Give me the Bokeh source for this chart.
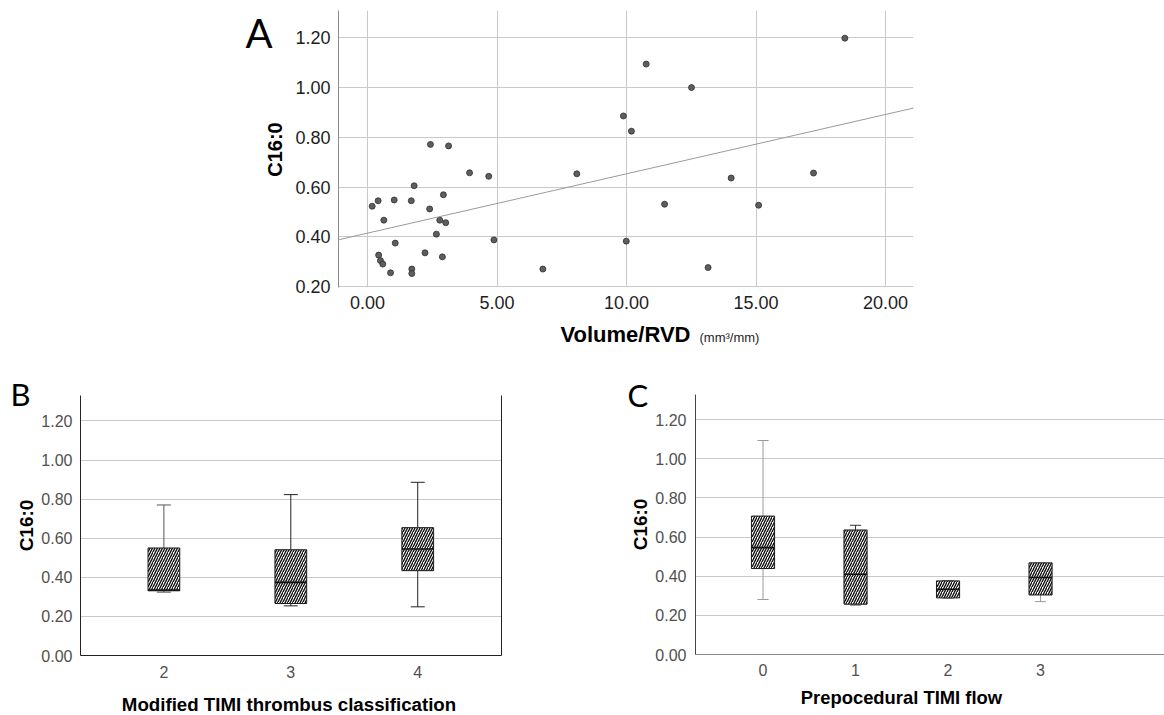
import math
from bokeh.plotting import figure
from bokeh.models import Range1d, FixedTicker, NumeralTickFormatter, Label, Slope, LinearAxis
from bokeh.layouts import column, row
from bokeh.embed import file_html
from bokeh.resources import INLINE
import numpy as np

# ---------------- Data ----------------
# Panel A: scatter of C16:0 vs Volume/RVD
vol_rvd = [0.18, 0.41, 0.63, 0.43, 0.50, 0.59, 0.89, 1.03, 1.07, 1.69,
           1.80, 1.71, 1.71, 2.22, 2.40, 2.43, 2.66, 2.79, 2.89, 2.93,
           3.02, 3.13, 3.94, 4.68, 4.88, 6.77, 8.08, 9.88, 10.19, 10.76,
           9.99, 11.47, 12.51, 13.15, 14.04, 15.10, 17.22, 18.43]
c16_a = [0.523, 0.545, 0.467, 0.327, 0.305, 0.291, 0.256, 0.548, 0.375, 0.545,
         0.605, 0.271, 0.253, 0.336, 0.512, 0.771, 0.411, 0.467, 0.320, 0.569,
         0.457, 0.765, 0.657, 0.643, 0.388, 0.271, 0.653, 0.885, 0.824, 1.093,
         0.383, 0.531, 0.999, 0.277, 0.636, 0.527, 0.656, 1.197]
fit_intercept = 0.415
fit_slope = 0.0238
a_xticks = [0, 5, 10, 15, 20]
a_yticks = [0.2, 0.4, 0.6, 0.8, 1.0, 1.2]

# Panel B: boxplots by Modified TIMI thrombus classification
b_cats = [2, 3, 4]
b_low = [0.324, 0.254, 0.249]
b_q1 = [0.331, 0.266, 0.434]
b_med = [0.335, 0.374, 0.545]
b_q3 = [0.550, 0.541, 0.654]
b_high = [0.770, 0.823, 0.886]

# Panel C: boxplots by Prepocedural TIMI flow
c_cats = [0, 1, 2, 3]
c_low = [0.281, 0.253, 0.289, 0.270]
c_q1 = [0.439, 0.257, 0.289, 0.304]
c_med = [0.546, 0.410, 0.333, 0.393]
c_q3 = [0.707, 0.636, 0.376, 0.468]
c_high = [1.093, 0.660, 0.376, 0.468]

bc_yticks = [0.0, 0.2, 0.4, 0.6, 0.8, 1.0, 1.2]

TICK_FONT = "Liberation Sans"
LETTER_FONT = "Lato"
GRID = "#c9c9c9"


def text_fig(x0, y0, w, h, bl=0, br=0):
    """A blank figure whose data coordinates equal page pixel coordinates."""
    f = figure(width=w, height=h, output_backend="svg", toolbar_location=None,
               title=None, x_range=Range1d(x0 + bl, x0 + w - br),
               y_range=Range1d(y0 + h, y0),
               x_axis_location=None, y_axis_location=None, min_border=0)
    f.min_border_left = bl
    f.min_border_right = br
    f.min_border_top = 0
    f.min_border_bottom = 0
    f.xgrid.visible = False
    f.ygrid.visible = False
    f.outline_line_color = None
    return f


def add_text(f, x, y, text, size, bold=False, align="left", angle=0.0,
             font=TICK_FONT, color="#000000"):
    f.add_layout(Label(x=x, y=y, text=text, text_font=font,
                       text_font_style="bold" if bold else "normal",
                       text_font_size=size, text_color=color, text_align=align,
                       text_baseline="middle", angle=angle))


# ---------------- Panel A ----------------
pA = figure(width=874, height=318, output_backend="svg", toolbar_location=None,
            x_range=Range1d(-1.12, 21.08), y_range=Range1d(0.197, 1.308))
pA.min_border_left = 48
pA.min_border_right = 251
pA.min_border_top = 10
pA.min_border_bottom = 31
pA.outline_line_color = None

pA.xaxis.ticker = FixedTicker(ticks=a_xticks)
pA.yaxis.ticker = FixedTicker(ticks=a_yticks)
pA.xaxis.formatter = NumeralTickFormatter(format="0.00")
pA.yaxis.formatter = NumeralTickFormatter(format="0.00")
for ax in (pA.xaxis[0], pA.yaxis[0]):
    ax.major_tick_line_color = None
    ax.minor_tick_line_color = None
    ax.major_label_text_font = TICK_FONT
    ax.major_label_text_font_size = "18px"
    ax.major_label_text_color = "#1e1e1e"
pA.xaxis.axis_line_color = None
pA.xaxis.major_label_standoff = 2
pA.yaxis.axis_line_color = "#8c8c8c"
pA.yaxis.major_label_standoff = 2
pA.xgrid.ticker = FixedTicker(ticks=a_xticks)
pA.ygrid.ticker = FixedTicker(ticks=a_yticks)
pA.xgrid.grid_line_color = GRID
pA.ygrid.grid_line_color = GRID

pA.add_layout(Slope(gradient=fit_slope, y_intercept=fit_intercept,
                    line_color="#9a9a9a", line_width=1))
pA.scatter(vol_rvd, c16_a, size=6, fill_color="#5e5e5e", line_color="#2e2e2e",
           line_width=0.8)

tA_left = text_fig(0, 0, 290, 352)
add_text(tA_left, 245, 32, "A", "40px", font=LETTER_FONT)
add_text(tA_left, 274.5, 149, "C16:0", "20px", bold=True, align="center",
         angle=math.pi / 2)

tA_bottom = text_fig(290, 318, 874, 34, bl=48, br=251)
add_text(tA_bottom, 560, 334, "Volume/RVD", "22px", bold=True)
add_text(tA_bottom, 699, 337, "(mm³/mm)", "13px", color="#1e1e1e")


def box_panel(p, cats, low, q1, med, q3, high, cap_half, whisker_colors):
    cats = np.array(cats, dtype=float)
    half = 0.125
    p.segment(cats, q3, cats, high, line_color=whisker_colors, line_width=1)
    p.segment(cats, q1, cats, low, line_color=whisker_colors, line_width=1)
    p.segment(cats - cap_half, high, cats + cap_half, high, line_color=whisker_colors, line_width=1)
    p.segment(cats - cap_half, low, cats + cap_half, low, line_color=whisker_colors, line_width=1)
    p.vbar(x=cats, width=2 * half, bottom=q1, top=q3, fill_color="#ffffff",
           line_color="#1a1a1a", line_width=1, hatch_pattern="/",
           hatch_color="#111111", hatch_scale=5, hatch_weight=1.4)
    p.segment(cats - half, med, cats + half, med, line_color="#111111", line_width=1.6)


def style_box_fig(p, cats):
    p.outline_line_color = None
    p.xaxis.ticker = FixedTicker(ticks=cats)
    p.yaxis.ticker = FixedTicker(ticks=bc_yticks)
    p.yaxis.formatter = NumeralTickFormatter(format="0.00")
    for ax in (p.xaxis[0], p.yaxis[0]):
        ax.major_tick_line_color = None
        ax.minor_tick_line_color = None
        ax.major_label_text_font = TICK_FONT
        ax.major_label_text_font_size = "16px"
        ax.major_label_text_color = "#505050"
    p.xgrid.grid_line_color = None
    p.ygrid.ticker = FixedTicker(ticks=bc_yticks)
    p.ygrid.grid_line_color = GRID


# ---------------- Panel B ----------------
pB = figure(width=542, height=333, output_backend="svg", toolbar_location=None,
            x_range=Range1d(1.343, 4.66), y_range=Range1d(0, 1.33))
pB.min_border_left = 41
pB.min_border_right = 79
pB.min_border_top = 43
pB.min_border_bottom = 30
style_box_fig(pB, b_cats)
pB.xaxis.major_label_standoff = 4
pB.yaxis.major_label_standoff = 2
pB.xaxis.axis_line_color = "#222222"
pB.yaxis.axis_line_color = "#222222"
right_axis = LinearAxis(ticker=FixedTicker(ticks=[]), axis_line_color="#222222",
                        major_tick_line_color=None, minor_tick_line_color=None,
                        major_label_text_font_size="0px")
pB.add_layout(right_axis, "right")
box_panel(pB, b_cats, b_low, b_q1, b_med, b_q3, b_high, 0.055,
          ["#555555", "#222222", "#222222"])

tB_left = text_fig(0, 352, 38, 363)
add_text(tB_left, 10, 393, "B", "31px", font=LETTER_FONT)
add_text(tB_left, 25.5, 525, "C16:0", "19px", bold=True, align="center",
         angle=math.pi / 2)

tB_bottom = text_fig(38, 685, 542, 30, bl=41, br=79)
add_text(tB_bottom, 288, 704, "Modified TIMI thrombus classification", "18.7px",
         bold=True, align="center")

# ---------------- Panel C ----------------
pC = figure(width=512, height=333, output_backend="svg", toolbar_location=None,
            x_range=Range1d(-0.73, 4.34), y_range=Range1d(0, 1.328))
pC.min_border_left = 39
pC.min_border_right = 0
pC.min_border_top = 42
pC.min_border_bottom = 31
style_box_fig(pC, c_cats)
pC.xaxis.major_label_standoff = 3
pC.yaxis.major_label_standoff = 3
pC.xaxis.axis_line_color = "#8a8a8a"
pC.yaxis.axis_line_color = "#444444"
box_panel(pC, c_cats, c_low, c_q1, c_med, c_q3, c_high, 0.06,
          ["#9a9a9a", "#333333", "#333333", "#9a9a9a"])

tC_left = text_fig(580, 352, 72, 363)
add_text(tC_left, 627, 394, "C", "31px", font=LETTER_FONT)
add_text(tC_left, 640, 524, "C16:0", "19px", bold=True, align="center",
         angle=math.pi / 2)

tC_bottom = text_fig(652, 685, 512, 30, bl=39, br=0)
add_text(tC_bottom, 898.7, 697, "Prepocedural TIMI flow", "18.4px", bold=True,
         align="center")

layout = column(
    row(tA_left, column(pA, tA_bottom)),
    row(tB_left, column(pB, tB_bottom), tC_left, column(pC, tC_bottom)),
)
open("out.html", "w").write(file_html(layout, INLINE))
